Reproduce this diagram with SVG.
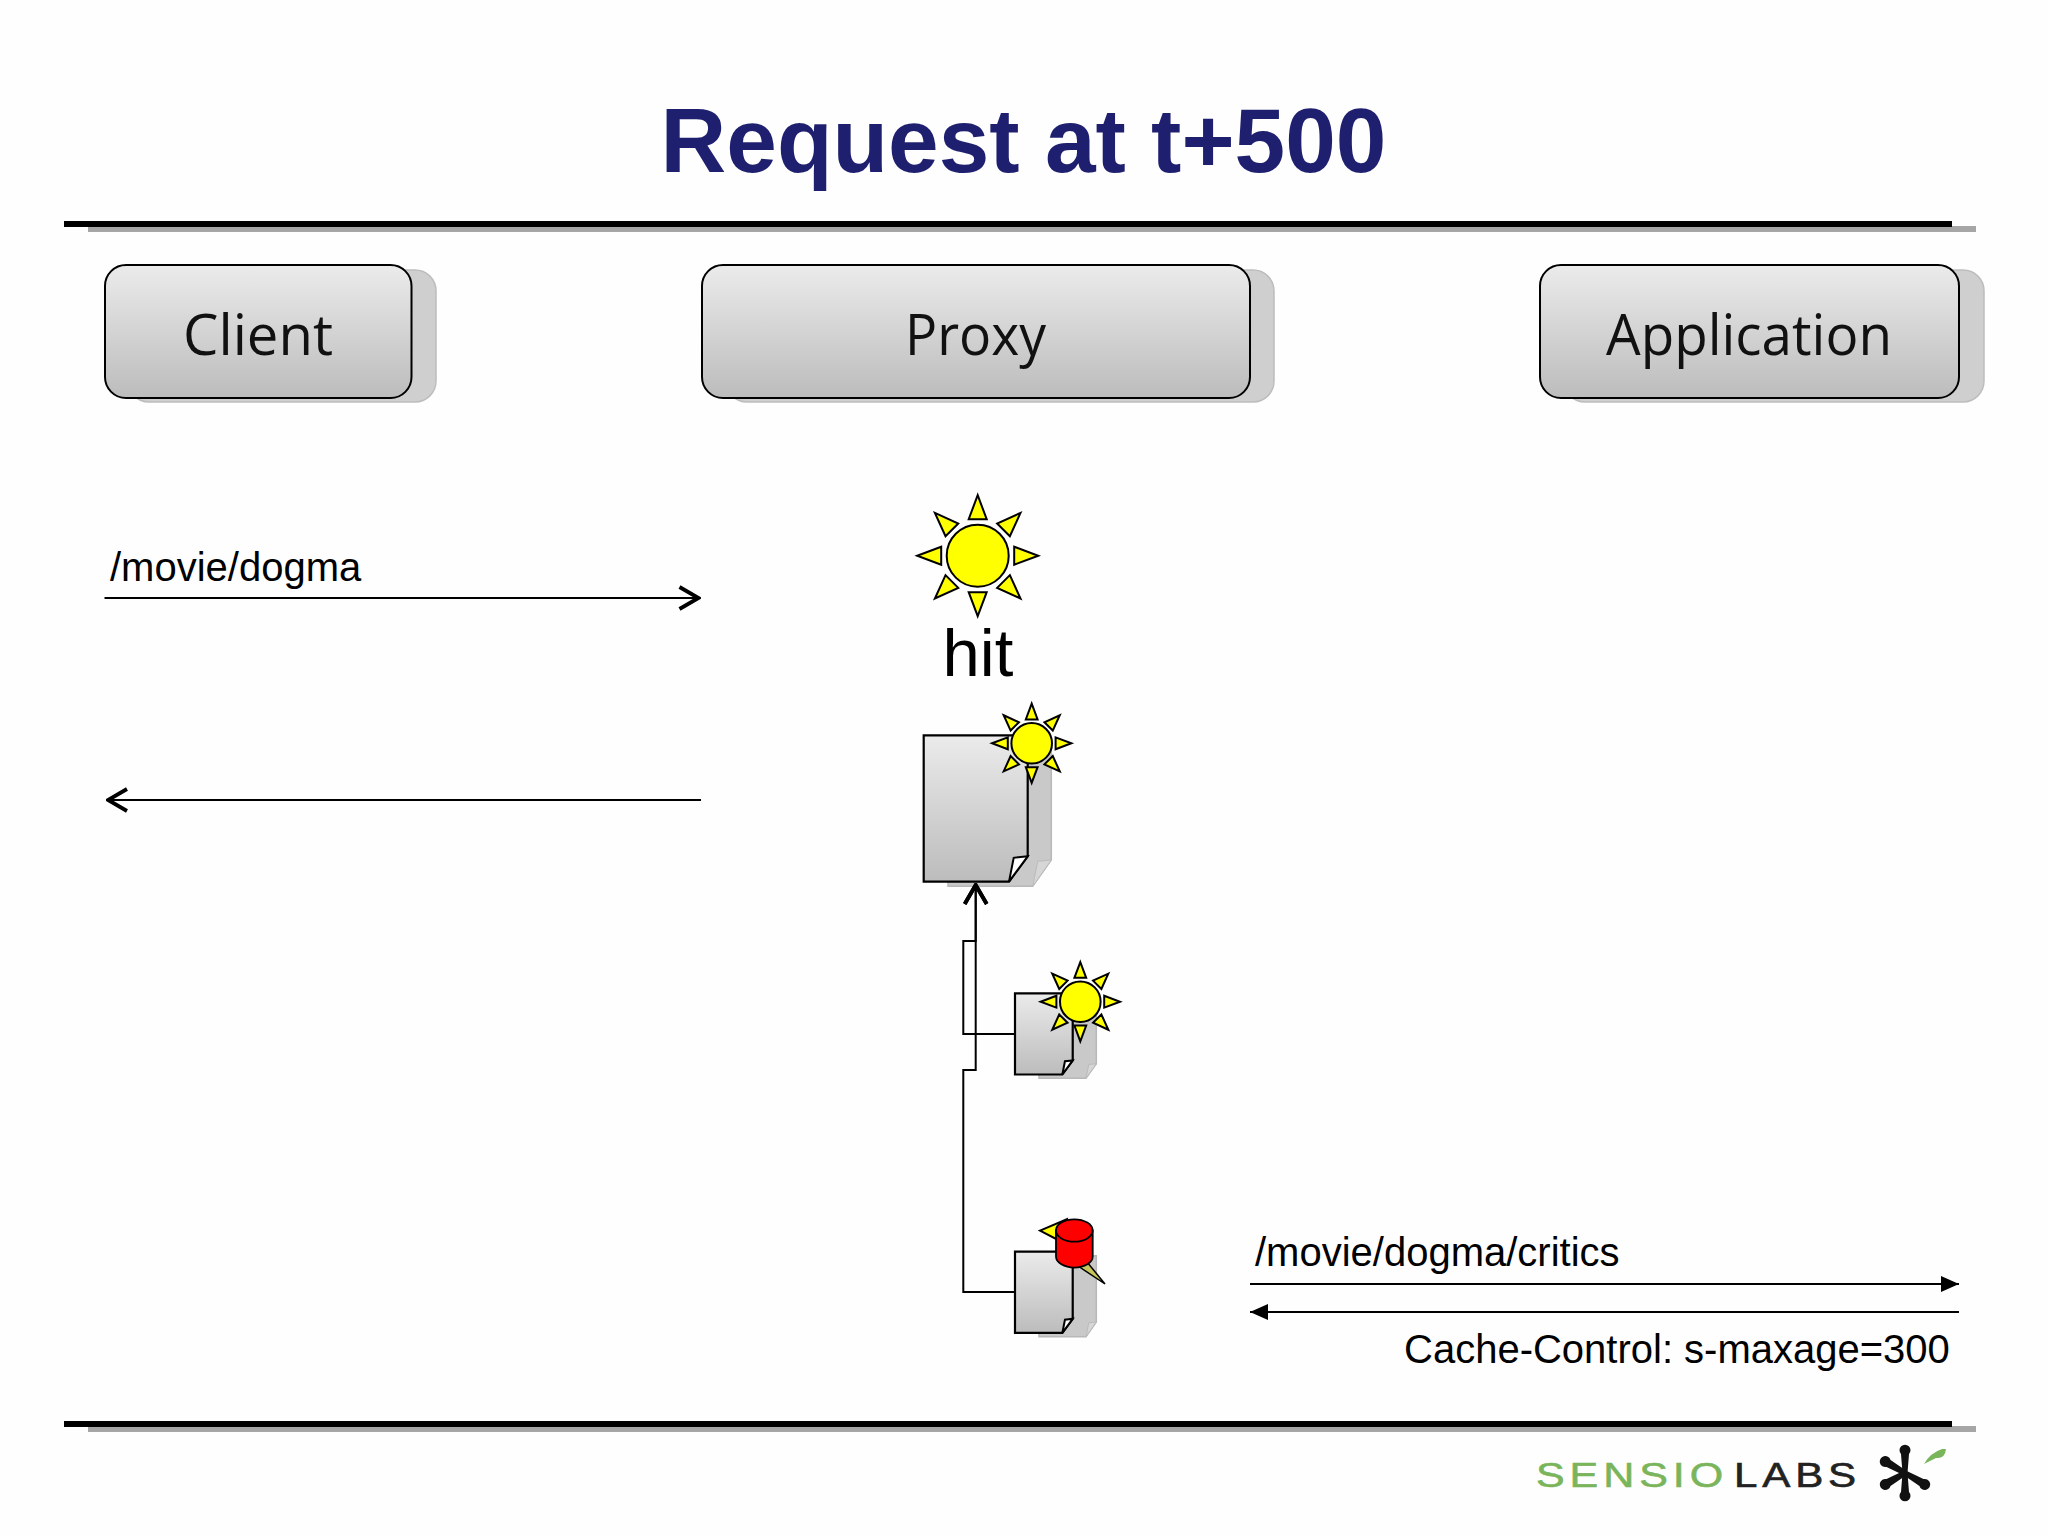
<svg xmlns="http://www.w3.org/2000/svg" width="2048" height="1536" viewBox="0 0 2048 1536">
<style>
text{font-family:"Liberation Sans",Arial,sans-serif;fill:#000}
.title{font-size:91px;font-weight:700;fill:#1f1f6f;text-anchor:middle}
.label{font-size:40px}
.btn{font-family:"Open Sans","Noto Sans",sans-serif;font-size:56px;text-anchor:middle;fill:#111}
.box{fill:url(#gr);stroke:#000;stroke-width:2}
.boxs{fill:#cfcfcf;stroke:#bdbdbd;stroke-width:1.5}
.line{fill:none;stroke:#000;stroke-width:2}
.ray,.disc{fill:#ff0;stroke:#000;stroke-width:2;vector-effect:non-scaling-stroke}
.dshadow{fill:#c9c9c9;stroke:#b8b8b8;stroke-width:1.5;vector-effect:non-scaling-stroke}
.dfold{fill:#d6d6d6;stroke:#bbb;stroke-width:1;vector-effect:non-scaling-stroke}
.dbody{fill:url(#gr);stroke:#000;stroke-width:2.2;vector-effect:non-scaling-stroke}
.dcurl{fill:#fff;stroke:#000;stroke-width:2;vector-effect:non-scaling-stroke}
.logo-g{stroke:#7ab55c;stroke-width:.6;letter-spacing:4px}
.logo-k{stroke:#222;stroke-width:.6;letter-spacing:4px}
.spoke{fill:#111}
</style>
<defs>
<linearGradient id="gr" x1="0" y1="0" x2="0" y2="1"><stop offset="0" stop-color="#ebebec"/><stop offset="1" stop-color="#bcbcbc"/></linearGradient>
<marker id="open" viewBox="0 0 24 28" refX="22" refY="14" markerWidth="24" markerHeight="28" markerUnits="userSpaceOnUse" orient="auto"><path d="M3 3 L22 14 L3 25" fill="none" stroke="#000" stroke-width="3.8"/></marker>
<marker id="solid" viewBox="0 0 18 16" refX="18" refY="8" markerWidth="18" markerHeight="16" markerUnits="userSpaceOnUse" orient="auto"><path d="M0 0 L18 8 L0 16 Z" fill="#000"/></marker>
<polygon id="ray" class="ray" points="0,-60.5 9,-36.5 -9,-36.5"/>
<g id="sun">
<circle class="disc" r="31"/>
<use href="#ray"/>
<use href="#ray" transform="rotate(45)"/>
<use href="#ray" transform="rotate(90)"/>
<use href="#ray" transform="rotate(135)"/>
<use href="#ray" transform="rotate(180)"/>
<use href="#ray" transform="rotate(225)"/>
<use href="#ray" transform="rotate(270)"/>
<use href="#ray" transform="rotate(315)"/>
</g>
<g id="docshadow">
<path class="dshadow" d="M24.300 5 H127.600 V124.700 L109 151 H24.300 Z"/>
<path class="dfold" d="M114 126 L127.600 124.700 L109 151 Z"/>
</g>
<g id="doc">
<path class="dbody" d="M0 0 H104 V121 L85.300 146.300 H0 Z"/>
<path class="dcurl" d="M85.300 146.300 L104 121 L90 122.500 Z"/>
</g>
<path id="spoke" class="spoke" d="M-2.500 0 L-4 -19 A5.500 5.500 0 1 1 4 -19 L2.500 0 Z"/>
</defs>
<rect width="2048" height="1536" fill="#fefefe"/>
<text class="title" x="1023.500" y="172">Request at t+500</text>
<g id="rule-top"><rect x="88" y="226" width="1888" height="6" fill="#a6a6a6"/><rect x="64" y="221" width="1888" height="6" fill="#000"/></g>
<g id="rule-bottom"><rect x="88" y="1426" width="1888" height="6" fill="#a6a6a6"/><rect x="64" y="1421" width="1888" height="6" fill="#000"/></g>
<g id="client"><rect class="boxs" x="128" y="270" width="308" height="132" rx="21"/><rect class="box" x="105" y="265" width="306.500" height="133" rx="21"/><text class="btn" x="258" y="355" textLength="150" lengthAdjust="spacingAndGlyphs">Client</text></g>
<g id="proxy"><rect class="boxs" x="726" y="270" width="548" height="132" rx="21"/><rect class="box" x="702" y="265" width="548" height="133" rx="21"/><text class="btn" x="975.500" y="355" textLength="141" lengthAdjust="spacingAndGlyphs">Proxy</text></g>
<g id="application"><rect class="boxs" x="1564" y="270" width="420" height="132" rx="21"/><rect class="box" x="1540" y="265" width="419" height="133" rx="21"/><text class="btn" x="1749" y="355" textLength="286" lengthAdjust="spacingAndGlyphs">Application</text></g>
<g id="cache-hit"><use href="#sun" transform="translate(977.700 555.700)"/><text x="978" y="676" font-size="67" text-anchor="middle">hit</text></g>
<g id="doc-main"><use href="#docshadow" transform="translate(923.700 735.300)"/><use href="#doc" transform="translate(923.700 735.300)"/><use href="#sun" transform="translate(1031.700 743.300) scale(.655)"/></g>
<g id="doc-fresh"><use href="#docshadow" transform="translate(1025.500 994.500) scale(.555)"/><use href="#doc" transform="translate(1015 993.300) scale(.555)"/><use href="#sun" transform="translate(1080.300 1001.700) scale(.655)"/></g>
<g id="doc-stale">
<use href="#docshadow" transform="translate(1025.500 1252.900) scale(.555)"/>
<use href="#doc" transform="translate(1015 1251.700) scale(.555)"/>
<polygon points="1040,1230.700 1066.700,1219.300 1060,1241" fill="#ff0" stroke="#000" stroke-width="2"/>
<polygon points="1078,1266 1105,1284 1087,1262" fill="#c6c65c" stroke="#000" stroke-width="1.500"/>
<path d="M1056 1230.500 V1256.500 A18.300 11 0 0 0 1092.700 1256.500 V1230.500 Z" fill="#f00" stroke="#000" stroke-width="1.800"/>
<ellipse cx="1074.300" cy="1230.500" rx="18.300" ry="11.200" fill="#f00" stroke="#000" stroke-width="1.800"/>
</g>
<g id="connectors">
<path class="line" d="M104.500 598 H698.500" marker-end="url(#open)"/>
<path class="line" d="M701 800 H108" marker-end="url(#open)"/>
<path class="line" d="M1250 1284 H1959" marker-end="url(#solid)"/>
<path class="line" d="M1959 1312 H1250" marker-end="url(#solid)"/>
<path class="line" d="M1014.700 1034 H963.300 V941 H975.700 V885" marker-end="url(#open)"/>
<path class="line" d="M1014.700 1292 H963.300 V1070 H975.700 V885" marker-end="url(#open)"/>
</g>
<text class="label" x="110" y="581">/movie/dogma</text>
<text class="label" x="1255" y="1266">/movie/dogma/critics</text>
<text class="label" x="1404" y="1363">Cache-Control: s-maxage=300</text>
<g id="logo">
<text class="logo-g" x="1536" y="1486.500" font-size="35" textLength="192" lengthAdjust="spacingAndGlyphs" style="fill:#7ab55c">SENSIO</text>
<text class="logo-k" x="1734" y="1486.500" font-size="35" textLength="127" lengthAdjust="spacingAndGlyphs" style="fill:#222">LABS</text>
<use href="#spoke" transform="translate(1905 1473)"/>
<use href="#spoke" transform="translate(1905 1473) rotate(180)"/>
<use href="#spoke" transform="translate(1905 1473) rotate(-60)"/>
<use href="#spoke" transform="translate(1905 1473) rotate(-120)"/>
<use href="#spoke" transform="translate(1905 1473) rotate(120)"/>
<path d="M1924 1464 Q1930 1453 1942 1449 L1946 1449 Q1945 1459 1936 1458 Z" fill="#7ab55c"/>
</g>
</svg>
